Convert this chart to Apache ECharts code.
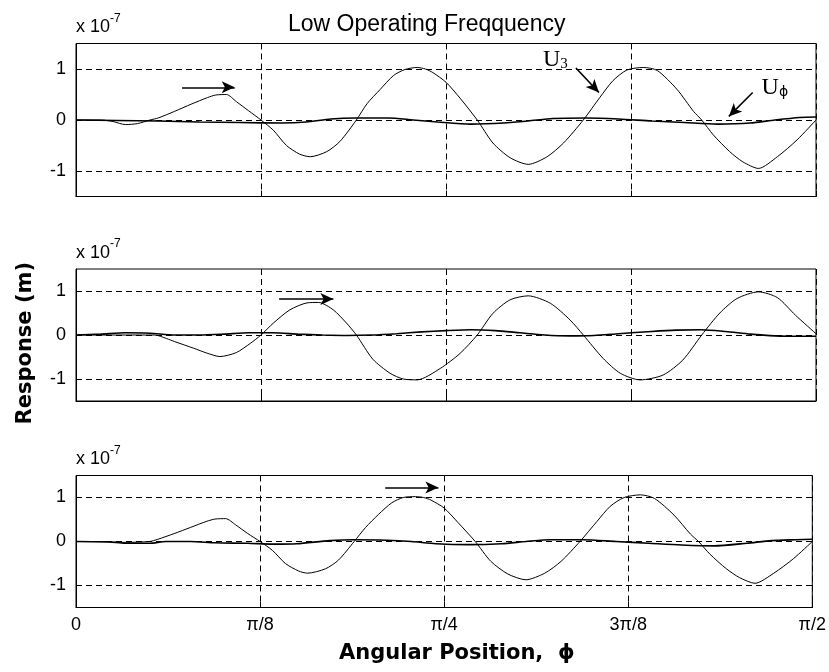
<!DOCTYPE html>
<html>
<head>
<meta charset="utf-8">
<script src="https://cdn.jsdelivr.net/npm/echarts@6/dist/echarts.min.js"></script>
<style>html,body{margin:0;padding:0;background:#fff}#c{width:829px;height:672px}</style>
</head>
<body>
<div id="c"></div>
<script>
// x in degrees (0 .. 90 = pi/2), y in units of 1e-7 m
const xTickValues = [0, 22.5, 45, 67.5, 90];
const xTickLabels = ['0', 'π/8', 'π/4', '3π/8', 'π/2'];
const yTickValues = [-1, 0, 1];

const u3Top = [[0,0],[3,0],[4.5,-0.03],[6,-0.09],[7.5,-0.07],[9,0],[10,0.04],[12,0.17],[14,0.31],[16,0.44],[17,0.49],[18.3,0.5],[19.5,0.36],[21,0.18],[22.5,0],[24,-0.2],[25.6,-0.5],[27.2,-0.67],[28.5,-0.72],[30.5,-0.62],[32.1,-0.42],[34.1,0],[35.4,0.32],[37,0.6],[38.6,0.87],[40,0.99],[41.5,1.03],[42.5,1.0],[43.4,0.93],[45,0.74],[46.7,0.43],[48.8,0],[50.7,-0.45],[52.8,-0.74],[55,-0.87],[57.3,-0.72],[59.3,-0.45],[61.7,0],[63.7,0.44],[65.3,0.77],[67,0.98],[69,1.03],[70.7,0.97],[73.1,0.6],[75.1,0.17],[76.1,0],[77.5,-0.29],[79.5,-0.62],[81.1,-0.82],[83,-0.95],[85.3,-0.72],[87.7,-0.39],[90,0]];
const uphiTop = [[0,0],[5,-0.01],[10,-0.02],[15,-0.04],[20,-0.05],[25,-0.06],[28,-0.04],[31,0.02],[34,0.04],[38,0.04],[41,0],[44,-0.04],[48,-0.08],[52,-0.06],[55,-0.02],[58,0.03],[62,0.04],[66,0.02],[70,-0.02],[74,-0.05],[78,-0.08],[82,-0.06],[85,0],[88,0.05],[90,0.06]];

const u3Mid = [[0,0],[5,0],[9.6,0],[11,-0.08],[12,-0.15],[14.3,-0.3],[15.9,-0.41],[17.5,-0.49],[19.5,-0.4],[21.2,-0.19],[22.5,0],[24,0.27],[26,0.57],[28.1,0.73],[29.5,0.74],[31.3,0.57],[32.9,0.27],[34.1,0],[36.1,-0.55],[38.2,-0.87],[39.8,-1.0],[41.5,-1.02],[44.3,-0.76],[46.7,-0.42],[48.8,0],[50.7,0.49],[52.8,0.8],[55,0.89],[57.7,0.72],[60.1,0.34],[61.7,0],[64.1,-0.53],[66.2,-0.87],[68.6,-1.02],[71.4,-0.91],[73.8,-0.57],[76.1,0],[78.3,0.5],[80.4,0.83],[83,0.98],[85.3,0.85],[87.5,0.45],[90,0.03]];
const uphiMid = [[0,0],[3,0.02],[6,0.05],[9,0.04],[12,0],[15,0],[18,0.02],[21,0.05],[24,0.05],[27,0.02],[30,0],[33,-0.01],[36,0],[39,0.03],[42,0.07],[45,0.1],[48,0.12],[51,0.1],[54,0.05],[57,0],[60,-0.02],[63,-0.01],[66,0.03],[70,0.08],[73,0.11],[76,0.12],[79,0.08],[82,0.02],[85,-0.02],[88,-0.03],[90,-0.03]];

const u3Bot = [[0,0],[3,0],[6,-0.02],[9,0],[10,0.05],[12,0.18],[14,0.32],[16,0.46],[17,0.51],[18.3,0.52],[19.5,0.38],[21,0.18],[22.5,0],[24,-0.2],[25.6,-0.5],[27.2,-0.67],[28.3,-0.72],[30.5,-0.62],[32.1,-0.42],[34,0],[35.4,0.32],[37,0.62],[38.6,0.88],[40,1.0],[41.5,1.02],[42.5,1.0],[43.4,0.94],[45,0.76],[46.7,0.43],[48.8,0],[50.7,-0.45],[52.8,-0.74],[55,-0.87],[57.3,-0.72],[59.3,-0.45],[61.6,0],[63.7,0.46],[65.3,0.8],[67,1.0],[69,1.06],[70.7,0.98],[73.1,0.6],[75.1,0.17],[76.1,0],[77.5,-0.29],[79.5,-0.62],[81.1,-0.82],[83,-0.95],[85.3,-0.72],[87.7,-0.39],[90,0]];
const uphiBot = [[0,0],[4,-0.01],[6,-0.04],[9,-0.04],[11,0],[14,0],[17,-0.03],[21,-0.04],[24,-0.06],[27,-0.05],[31,0.02],[34,0.04],[38,0.03],[41,0],[44,-0.05],[48,-0.07],[52,-0.05],[55,0],[58,0.04],[62,0.04],[66,0],[70,-0.04],[74,-0.08],[78,-0.1],[82,-0.04],[85,0.02],[88,0.04],[90,0.05]];

// annotation positions (data coordinates)
const arrowTop = [[12.9,0.64],[19.3,0.64]];
const arrowMid = [[24.7,0.82],[31.3,0.82]];
const arrowBot = [[37.8,1.23],[44.3,1.23]];
const u3Arrow = [[60.8,1.02],[63.6,0.54]];
const uphiArrow = [[82.3,0.54],[79.4,0.07]];
const u3LabelPos = [58.3,1.24];
const uphiLabelPos = [85.0,0.7];

const chart = echarts.init(document.getElementById('c'), null, {renderer:'canvas'});

const grids = [
  {left:76, right:13, top:43.5, height:153},
  {left:76, right:13, top:269, height:132},
  {left:76, right:13, top:475.5, height:132}
];

const dash = [6,4];
function xAxisFor(i, showLabels){
  return {
    type:'value', gridIndex:i, min:0, max:90, interval:22.5,
    axisLine:{show:true, onZero:false, lineStyle:{color:'#000', width:1}},
    axisTick:{show:true, inside:true, length:6, lineStyle:{color:'#000'}},
    axisLabel:{show:showLabels, color:'#000', fontFamily:'Liberation Sans', fontSize:18, margin:9,
      formatter:(v)=>{const k = xTickValues.indexOf(v); return k>=0 ? xTickLabels[k] : '';}},
    splitLine:{show:true, lineStyle:{color:'#000', type:dash, width:1}}
  };
}
function yAxisFor(i){
  return {
    type:'value', gridIndex:i, min:-1.5, max:1.5, interval:0.5,
    axisLine:{show:true, onZero:false, lineStyle:{color:'#000', width:1}},
    axisTick:{show:true, inside:true, length:6, customValues:yTickValues, lineStyle:{color:'#000'}},
    axisLabel:{show:true, color:'#000', fontFamily:'Liberation Sans', fontSize:18, margin:10,
      customValues:yTickValues,
      formatter:(v)=> yTickValues.indexOf(v)>=0 ? String(v) : ''},
    splitLine:{show:false},
    name:'{a|x 10}{b|-7}', nameLocation:'end', nameGap:7,
    nameTextStyle:{align:'left', verticalAlign:'bottom', padding:[0,0,0,0],
      rich:{a:{fontFamily:'Liberation Sans', fontSize:18, color:'#000', verticalAlign:'bottom', lineHeight:24},
            b:{fontFamily:'Liberation Sans', fontSize:12, color:'#000', verticalAlign:'top', lineHeight:24}}}
  };
}

function gridLines(){
  return {silent:true, symbol:['none','none'], label:{show:false},
    lineStyle:{color:'#000', type:dash, width:1},
    data: yTickValues.map(v=>({yAxis:v}))};
}
function arrowSeg(seg){
  return [{coord:seg[0], symbol:'none'},{coord:seg[1], symbol:'arrow', symbolSize:[9,13]}];
}
const subRich = {
  u:{fontFamily:'Liberation Serif', fontSize:24, color:'#000', verticalAlign:'bottom', lineHeight:30},
  s:{fontFamily:'Liberation Serif', fontSize:15, color:'#000', verticalAlign:'bottom', lineHeight:24},
  p:{fontFamily:'DejaVu Sans', fontSize:14, color:'#000', verticalAlign:'bottom', lineHeight:22}
};

function u3Series(i, data, arrows, extra){
  const s = {type:'line', xAxisIndex:i, yAxisIndex:i, data:data, showSymbol:false, smooth:0.25,
    lineStyle:{color:'#000', width:1}, z:3, animation:false,
    markLine:{silent:true, animation:false, label:{show:false}, symbol:['none','arrow'],
      lineStyle:{color:'#000', type:'solid', width:1.6},
      data: arrows.map(arrowSeg)}};
  if (extra) s.markPoint = extra;
  return s;
}
function uphiSeries(i, data){
  return {type:'line', xAxisIndex:i, yAxisIndex:i, data:data, showSymbol:false, smooth:0.25,
    lineStyle:{color:'#000', width:1.6}, z:2, animation:false, markLine:Object.assign(gridLines(), {animation:false})};
}

const labelsTop = {silent:true, animation:false, symbol:'circle', symbolSize:0,
  data:[
    {coord:u3LabelPos, label:{show:true, position:'inside', formatter:'{u|U}{s|3}', rich:subRich}},
    {coord:uphiLabelPos, label:{show:true, position:'inside', formatter:'{u|U}{p|ϕ}', rich:subRich}}
  ]};

const option = {
  backgroundColor:'#fff',
  animation:false,
  title:{text:'Low Operating Freqquency', left:283, top:8,
    textStyle:{fontFamily:'Liberation Sans', fontSize:23, fontWeight:'normal', color:'#000'}},
  grid: grids.map(g=>Object.assign({show:true, borderColor:'#000', borderWidth:1, backgroundColor:'transparent'}, g)),
  xAxis:[xAxisFor(0,false), xAxisFor(1,false), xAxisFor(2,true)],
  yAxis:[yAxisFor(0), yAxisFor(1), yAxisFor(2)],
  series:[
    uphiSeries(0, uphiTop),
    u3Series(0, u3Top, [arrowTop, u3Arrow, uphiArrow], labelsTop),
    uphiSeries(1, uphiMid),
    u3Series(1, u3Mid, [arrowMid]),
    uphiSeries(2, uphiBot),
    u3Series(2, u3Bot, [arrowBot])
  ],
  graphic:[
    {type:'text', left:15, top:262, rotation:Math.PI/2,
      style:{text:'Response (m)', fontFamily:'DejaVu Sans', fontWeight:'bold', fontSize:21, fill:'#000'}},
    {type:'text', left:339, top:643,
      style:{text:'Angular Position,  ϕ', fontFamily:'DejaVu Sans', fontWeight:'bold', fontSize:21, fill:'#000'}}
  ]
};
chart.setOption(option);
</script>
</body>
</html>
